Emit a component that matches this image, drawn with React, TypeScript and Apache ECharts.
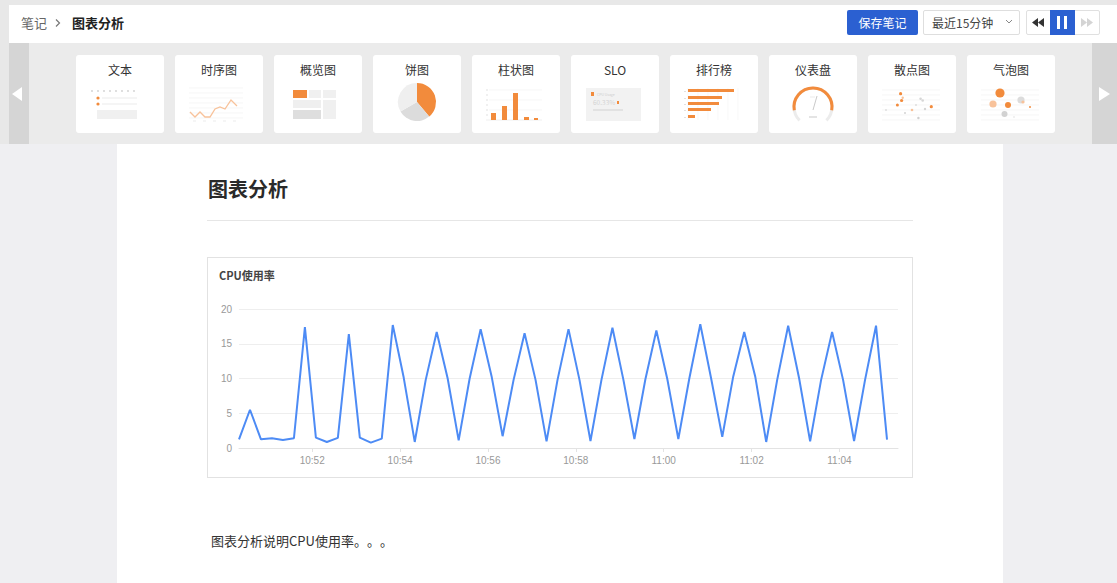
import React, { useEffect, useRef } from "react";
import * as echarts from "echarts";

// ---------- data ----------
const chartTitle = "CPU使用率";
const sampleTimes = [
  "10:50:20", "10:50:35", "10:50:50", "10:51:05", "10:51:20", "10:51:35", "10:51:50", "10:52:05",
  "10:52:20", "10:52:35", "10:52:50", "10:53:05", "10:53:20", "10:53:35", "10:53:50", "10:54:05",
  "10:54:20", "10:54:35", "10:54:50", "10:55:05", "10:55:20", "10:55:35", "10:55:50", "10:56:05",
  "10:56:20", "10:56:35", "10:56:50", "10:57:05", "10:57:20", "10:57:35", "10:57:50", "10:58:05",
  "10:58:20", "10:58:35", "10:58:50", "10:59:05", "10:59:20", "10:59:35", "10:59:50", "11:00:05",
  "11:00:20", "11:00:35", "11:00:50", "11:01:05", "11:01:20", "11:01:35", "11:01:50", "11:02:05",
  "11:02:20", "11:02:35", "11:02:50", "11:03:05", "11:03:20", "11:03:35", "11:03:50", "11:04:05",
  "11:04:20", "11:04:35", "11:04:50", "11:05:05",
];
const cpuValues = [
  1.25, 5.5, 1.25, 1.4, 1.15, 1.4, 17.4, 1.5,
  0.87, 1.45, 16.4, 1.5, 0.77, 1.35, 17.7, 10.1,
  0.87, 9.8, 16.7, 10.0, 1.1, 10.0, 17.1, 10.3,
  1.7, 9.8, 16.5, 9.8, 0.96, 9.8, 17.1, 9.8,
  1.0, 9.8, 17.3, 9.8, 1.3, 9.9, 16.9, 9.9,
  1.3, 10.0, 17.8, 9.9, 1.6, 10.3, 16.7, 10.3,
  0.87, 9.8, 17.6, 10.0, 0.96, 9.8, 16.7, 9.8,
  1.0, 9.8, 17.6, 1.2,
];
const xTickLabels = ["10:52", "10:54", "10:56", "10:58", "11:00", "11:02", "11:04"];
const axisStart = "10:50:20";
const axisEnd = "11:05:20";
const yMin = 0;
const yMax = 20;
const yStep = 5;
const galleryItems = ["文本", "时序图", "概览图", "饼图", "柱状图", "SLO", "排行榜", "仪表盘", "散点图", "气泡图"];

// ---------- helpers ----------
const FONT = '"Noto Sans CJK SC", "Noto Sans", sans-serif';
const AXIS_FONT = '"Liberation Sans", "Noto Sans", sans-serif';
const ORANGE = "#f28b3c";
const LIGHT_ORANGE = "#f8c29a";
// seconds of the day
const toSec = (t: string) => {
  const p = t.split(":").map(Number);
  return p[0] * 3600 + p[1] * 60 + (p[2] || 0);
};
const tickSecs = xTickLabels.map(toSec);

const Thumb: React.FC<{ i: number }> = ({ i }) => {
  const grid = (x1: number, x2: number, ys: number[]) =>
    ys.map((y, k) => <line key={"g" + k} x1={x1} x2={x2} y1={y} y2={y} stroke="#f0f0f0" strokeWidth={0.6} />);
  let content: React.ReactNode = null;
  switch (i) {
    case 0:
      content = (
        <g>
          {[16, 22, 28, 34, 40, 46, 52, 58].map((x) => (
            <circle key={x} cx={x} cy={36} r={0.9} fill="#d0d0d0" />
          ))}
          <circle cx={22} cy={43} r={1.6} fill={ORANGE} />
          <line x1={26} x2={61} y1={43} y2={43} stroke="#e6e6e6" strokeWidth={0.8} />
          <circle cx={22} cy={49} r={1.6} fill={ORANGE} />
          <line x1={26} x2={61} y1={49} y2={49} stroke="#e6e6e6" strokeWidth={0.8} />
          <rect x={21} y={55} width={40} height={9} fill="#f0f0f0" />
        </g>
      );
      break;
    case 1:
      content = (
        <g>
          {grid(14, 68, [33, 38, 43, 48, 53, 58, 63])}
          <polyline
            points="15,57 20,62 25,57 30,62 35,62 40,54 45,52 50,54 56,45 62,51"
            fill="none"
            stroke={LIGHT_ORANGE}
            strokeWidth={1.3}
          />
          {[18, 28, 38, 48, 58].map((x) => (
            <line key={x} x1={x} x2={x + 3} y1={66} y2={66} stroke="#ddd" strokeWidth={0.6} />
          ))}
        </g>
      );
      break;
    case 2:
      content = (
        <g>
          <rect x={19} y={35} width={14} height={8} fill={ORANGE} />
          <rect x={35} y={35} width={12} height={8} fill="#f0f0f0" />
          <rect x={49} y={35} width={13} height={8} fill="#f0f0f0" />
          <rect x={19} y={45} width={28} height={8} fill="#efefef" />
          <rect x={49} y={45} width={13} height={19} fill="#f0f0f0" />
          <rect x={19} y={55} width={28} height={9} fill="#dedede" />
        </g>
      );
      break;
    case 3:
      content = (
        <g>
          <path d="M44 47 L44 28 A19 19 0 0 1 56.2 61.6 Z" fill={ORANGE} />
          <path d="M44 47 L56.2 61.6 A19 19 0 0 1 27.5 56.5 Z" fill="#dcdcdc" />
          <path d="M44 47 L27.5 56.5 A19 19 0 0 1 44 28 Z" fill="#efefef" />
        </g>
      );
      break;
    case 4:
      content = (
        <g>
          {[35, 40, 45, 50, 55, 60].map((y) => (
            <line key={y} x1={14} x2={16} y1={y} y2={y} stroke="#ccc" strokeWidth={0.6} />
          ))}
          {grid(17, 70, [35, 45, 55])}
          <line x1={14} x2={70} y1={65} y2={65} stroke="#e8e8e8" strokeWidth={0.7} />
          <rect x={19} y={58} width={5} height={7} fill={ORANGE} />
          <rect x={30} y={51} width={5} height={14} fill={ORANGE} />
          <rect x={41} y={38} width={5} height={27} fill={ORANGE} />
          <rect x={52} y={62} width={5} height={3} fill={ORANGE} />
          <rect x={62} y={63} width={4} height={2} fill={ORANGE} />
        </g>
      );
      break;
    case 5:
      content = (
        <g>
          <rect x={15} y={33} width={55} height={33} fill="#f2f2f2" />
          <rect x={20} y={37} width={3} height={4} fill={ORANGE} />
          <text x={26} y={40.5} fontSize={3.5} fill="#cfcfcf" fontFamily={FONT}>
            CPU Usage
          </text>
          <text x={22} y={50} fontSize={6.5} fill="#d5d5d5" fontFamily={FONT}>
            60.33%
          </text>
          <rect x={46} y={46} width={2} height={3} fill={ORANGE} />
          <rect x={22} y={54} width={30} height={2} fill="#e2e2e2" />
        </g>
      );
      break;
    case 6:
      content = (
        <g>
          {[18, 28, 38, 48, 58, 68].map((x) => (
            <line key={x} x1={x} x2={x} y1={33} y2={65} stroke="#f3f3f3" strokeWidth={0.6} />
          ))}
          {[35, 42, 48, 54, 61].map((y) => (
            <line key={y} x1={14} x2={16} y1={y + 1.5} y2={y + 1.5} stroke="#ccc" strokeWidth={0.6} />
          ))}
          <rect x={18} y={34} width={46} height={3} fill={ORANGE} />
          <rect x={18} y={41} width={34} height={3} fill={ORANGE} />
          <rect x={18} y={47} width={31} height={3} fill={ORANGE} />
          <rect x={18} y={53} width={23} height={3} fill={ORANGE} />
          <rect x={18} y={60} width={7} height={3} fill={ORANGE} />
        </g>
      );
      break;
    case 7:
      content = (
        <g>
          <path d="M30.6 65.4 A19 19 0 1 1 57.4 65.4" fill="none" stroke="#ececec" strokeWidth={3} />
          <path d="M25.3 55.3 A19 19 0 1 1 62.7 55.3" fill="none" stroke={ORANGE} strokeWidth={3} />
          <line x1={44} y1={55} x2={48} y2={41} stroke="#bbb" strokeWidth={0.8} />
          <line x1={40} y1={62} x2={48} y2={62} stroke="#bbb" strokeWidth={0.8} />
          <line x1={41} y1={42} x2={46} y2={42} stroke="#ddd" strokeWidth={0.6} />
        </g>
      );
      break;
    case 8: {
      const pts: [number, number, string, number][] = [
        [32.6, 38.7, ORANGE, 1.6], [34.7, 42.7, LIGHT_ORANGE, 1.2], [33.6, 45.5, ORANGE, 1.6],
        [29.4, 50, ORANGE, 1.5], [44, 55, LIGHT_ORANGE, 1.3], [52.6, 43.7, "#d6d6d6", 1.3],
        [54.7, 45.5, "#d6d6d6", 1.3], [63.3, 51.7, ORANGE, 1.6], [57, 54, "#d6d6d6", 1.2],
        [50.4, 63, "#cfcfcf", 1.2], [37, 58, "#d6d6d6", 1.1], [18, 55, "#dcdcdc", 0.9],
        [48, 50, "#e0e0e0", 1.1],
      ];
      content = (
        <g>
          {grid(14, 72, [35, 40, 45, 50, 55, 60, 65])}
          {pts.map(([x, y, c, r], k) => (
            <circle key={k} cx={x} cy={y} r={r} fill={c} />
          ))}
        </g>
      );
      break;
    }
    case 9: {
      const pts: [number, number, string, number][] = [
        [33, 38, ORANGE, 4.6], [26, 49, LIGHT_ORANGE, 3.6], [41, 50, ORANGE, 3],
        [54, 45, "#dcdcdc", 3.6], [37.5, 59, "#d2d2d2", 3], [63, 52, ORANGE, 1],
        [56, 47, LIGHT_ORANGE, 1.6], [47, 62, "#e0e0e0", 0.8],
      ];
      content = (
        <g>
          {grid(14, 72, [35, 40, 45, 50, 55, 60, 65])}
          {pts.map(([x, y, c, r], k) => (
            <circle key={k} cx={x} cy={y} r={r} fill={c} />
          ))}
        </g>
      );
      break;
    }
  }
  return (
    <svg width={88} height={78} style={{ position: "absolute", left: 0, top: 0 }}>
      {content}
    </svg>
  );
};

const CpuChart: React.FC = () => {
  const ref = useRef<HTMLDivElement>(null);
  useEffect(() => {
    if (!ref.current) return;
    const chart = echarts.init(ref.current, undefined, { renderer: "svg" });
    const fmt = (v: number) => {
      const idx = tickSecs.indexOf(v);
      if (idx >= 0) return xTickLabels[idx];
      return "";
    };
    chart.setOption({
      animation: false,
      title: {
        text: chartTitle,
        left: 6,
        top: 6,
        textStyle: { fontSize: 11, fontWeight: "bold", color: "#444", fontFamily: FONT },
      },
      grid: { left: 31, right: 14, top: 51, bottom: 29 },
      xAxis: {
        type: "value",
        min: toSec(axisStart),
        max: toSec(axisEnd),
        axisLine: { show: true, lineStyle: { color: "#e3e3e3" } },
        axisTick: { show: true, length: 4, lineStyle: { color: "#e3e3e3" }, customValues: tickSecs },
        axisLabel: {
          customValues: tickSecs,
          formatter: fmt,
          color: "#999",
          fontSize: 10,
          margin: 7,
          fontFamily: AXIS_FONT,
        },
        splitLine: { show: false },
      },
      yAxis: {
        type: "value",
        min: yMin,
        max: yMax,
        interval: yStep,
        axisLine: { show: false },
        axisTick: { show: false },
        axisLabel: { color: "#999", fontSize: 10, margin: 7, fontFamily: AXIS_FONT },
        splitLine: { lineStyle: { color: "#eeeeee" } },
      },
      series: [
        {
          type: "line",
          data: sampleTimes.map((t, i) => [toSec(t), cpuValues[i]]),
          showSymbol: false,
          lineStyle: { color: "#4d8bf5", width: 2 },
          itemStyle: { color: "#4d8bf5" },
        },
      ],
    });
    return () => chart.dispose();
  }, []);
  return <div ref={ref} style={{ width: 704, height: 219 }} />;
};

const abs = (l: number, t: number, w: number, h: number, extra: React.CSSProperties = {}): React.CSSProperties => ({
  position: "absolute",
  left: l,
  top: t,
  width: w,
  height: h,
  boxSizing: "border-box",
  ...extra,
});

export default function App() {
  return (
    <div
      style={{
        position: "fixed",
        left: 0,
        top: 0,
        width: 1117,
        height: 583,
        overflow: "hidden",
        background: "#efeff2",
        fontFamily: FONT,
        color: "#333",
      }}
    >
      {/* outer frame strips */}
      <div style={abs(0, 0, 1117, 5, { background: "#e8e8e8" })} />
      <div style={abs(0, 0, 9, 144, { background: "#e8e8e8" })} />
      {/* header */}
      <div style={abs(9, 5, 1108, 38, { background: "#fff" })} />
      <div style={abs(21, 14, 40, 18, { fontSize: 13, color: "#666", lineHeight: "18px" })}>笔记</div>
      <svg style={abs(54, 18, 8, 10)} width={8} height={10}>
        <polyline points="2,1.5 5.5,5 2,8.5" fill="none" stroke="#777" strokeWidth={1.2} />
      </svg>
      <div style={abs(72, 14, 80, 18, { fontSize: 13, color: "#222", fontWeight: 700, lineHeight: "18px" })}>
        图表分析
      </div>
      <div
        style={abs(847, 10, 71, 25, {
          background: "#2b60d1",
          borderRadius: 2,
          color: "#fff",
          fontSize: 12,
          lineHeight: "25px",
          textAlign: "center",
        })}
      >
        保存笔记
      </div>
      <div
        style={abs(923, 10, 97, 25, {
          border: "1px solid #dedede",
          borderRadius: 2,
          fontSize: 12,
          lineHeight: "23px",
          paddingLeft: 8,
          color: "#444",
          background: "#fff",
        })}
      >
        最近15分钟
      </div>
      <svg style={abs(1005, 19, 8, 6)} width={8} height={6}>
        <polyline points="1,1 4,4 7,1" fill="none" stroke="#888" strokeWidth={1} />
      </svg>
      <div style={abs(1026, 10, 74, 25, { border: "1px solid #e0e0e0", borderRadius: 2, background: "#fff" })} />
      <svg style={abs(1032, 18, 14, 9)} width={14} height={9}>
        <polygon points="6,0 6,9 0,4.5" fill="#333" />
        <polygon points="12,0 12,9 6,4.5" fill="#333" />
      </svg>
      <div style={abs(1050, 10, 25, 25, { background: "#2b60d1" })} />
      <div style={abs(1057, 16, 3, 13, { background: "#fff" })} />
      <div style={abs(1064, 16, 3, 13, { background: "#fff" })} />
      <svg style={abs(1081, 18, 14, 9)} width={14} height={9}>
        <polygon points="0,0 0,9 6,4.5" fill="#d4d4d4" />
        <polygon points="6,0 6,9 12,4.5" fill="#d4d4d4" />
      </svg>
      {/* gallery */}
      <div style={abs(9, 43, 1108, 101, { background: "#ebebeb" })} />
      <div style={abs(9, 43, 20, 101, { background: "#d5d5d5" })} />
      <svg style={abs(10, 86, 14, 16)} width={14} height={16}>
        <polygon points="12,1 12,15 2,8" fill="#fff" />
      </svg>
      <div style={abs(1092, 43, 25, 101, { background: "#d5d5d5" })} />
      <svg style={abs(1097, 86, 16, 16)} width={16} height={16}>
        <polygon points="2,1 2,15 13,8" fill="#fff" />
      </svg>
      {galleryItems.map((name, i) => (
        <div key={name} style={abs(76 + i * 99, 55, 88, 78, { background: "#fff", borderRadius: 3 })}>
          <div
            style={{
              position: "absolute",
              left: 0,
              top: 7,
              width: 88,
              textAlign: "center",
              fontSize: 12,
              lineHeight: "16px",
              color: "#333",
            }}
          >
            {name}
          </div>
          <Thumb i={i} />
        </div>
      ))}
      {/* paper */}
      <div style={abs(117, 144, 886, 439, { background: "#fff" })} />
      <div style={abs(208, 175, 200, 28, { fontSize: 20, fontWeight: 700, lineHeight: "28px", color: "#2a2a2a" })}>
        图表分析
      </div>
      <div style={abs(207, 220, 706, 1, { background: "#e6e6e6" })} />
      <div style={abs(207, 257, 706, 221, { border: "1px solid #e2e2e2", background: "#fff" })}>
        <CpuChart />
      </div>
      <div
        style={abs(211, 531, 300, 20, {
          fontSize: 13,
          lineHeight: "20px",
          color: "#333",
          ...({ textSpacingTrim: "space-all" } as any),
        })}
      >
        图表分析说明CPU使用率。。。
      </div>
    </div>
  );
}
